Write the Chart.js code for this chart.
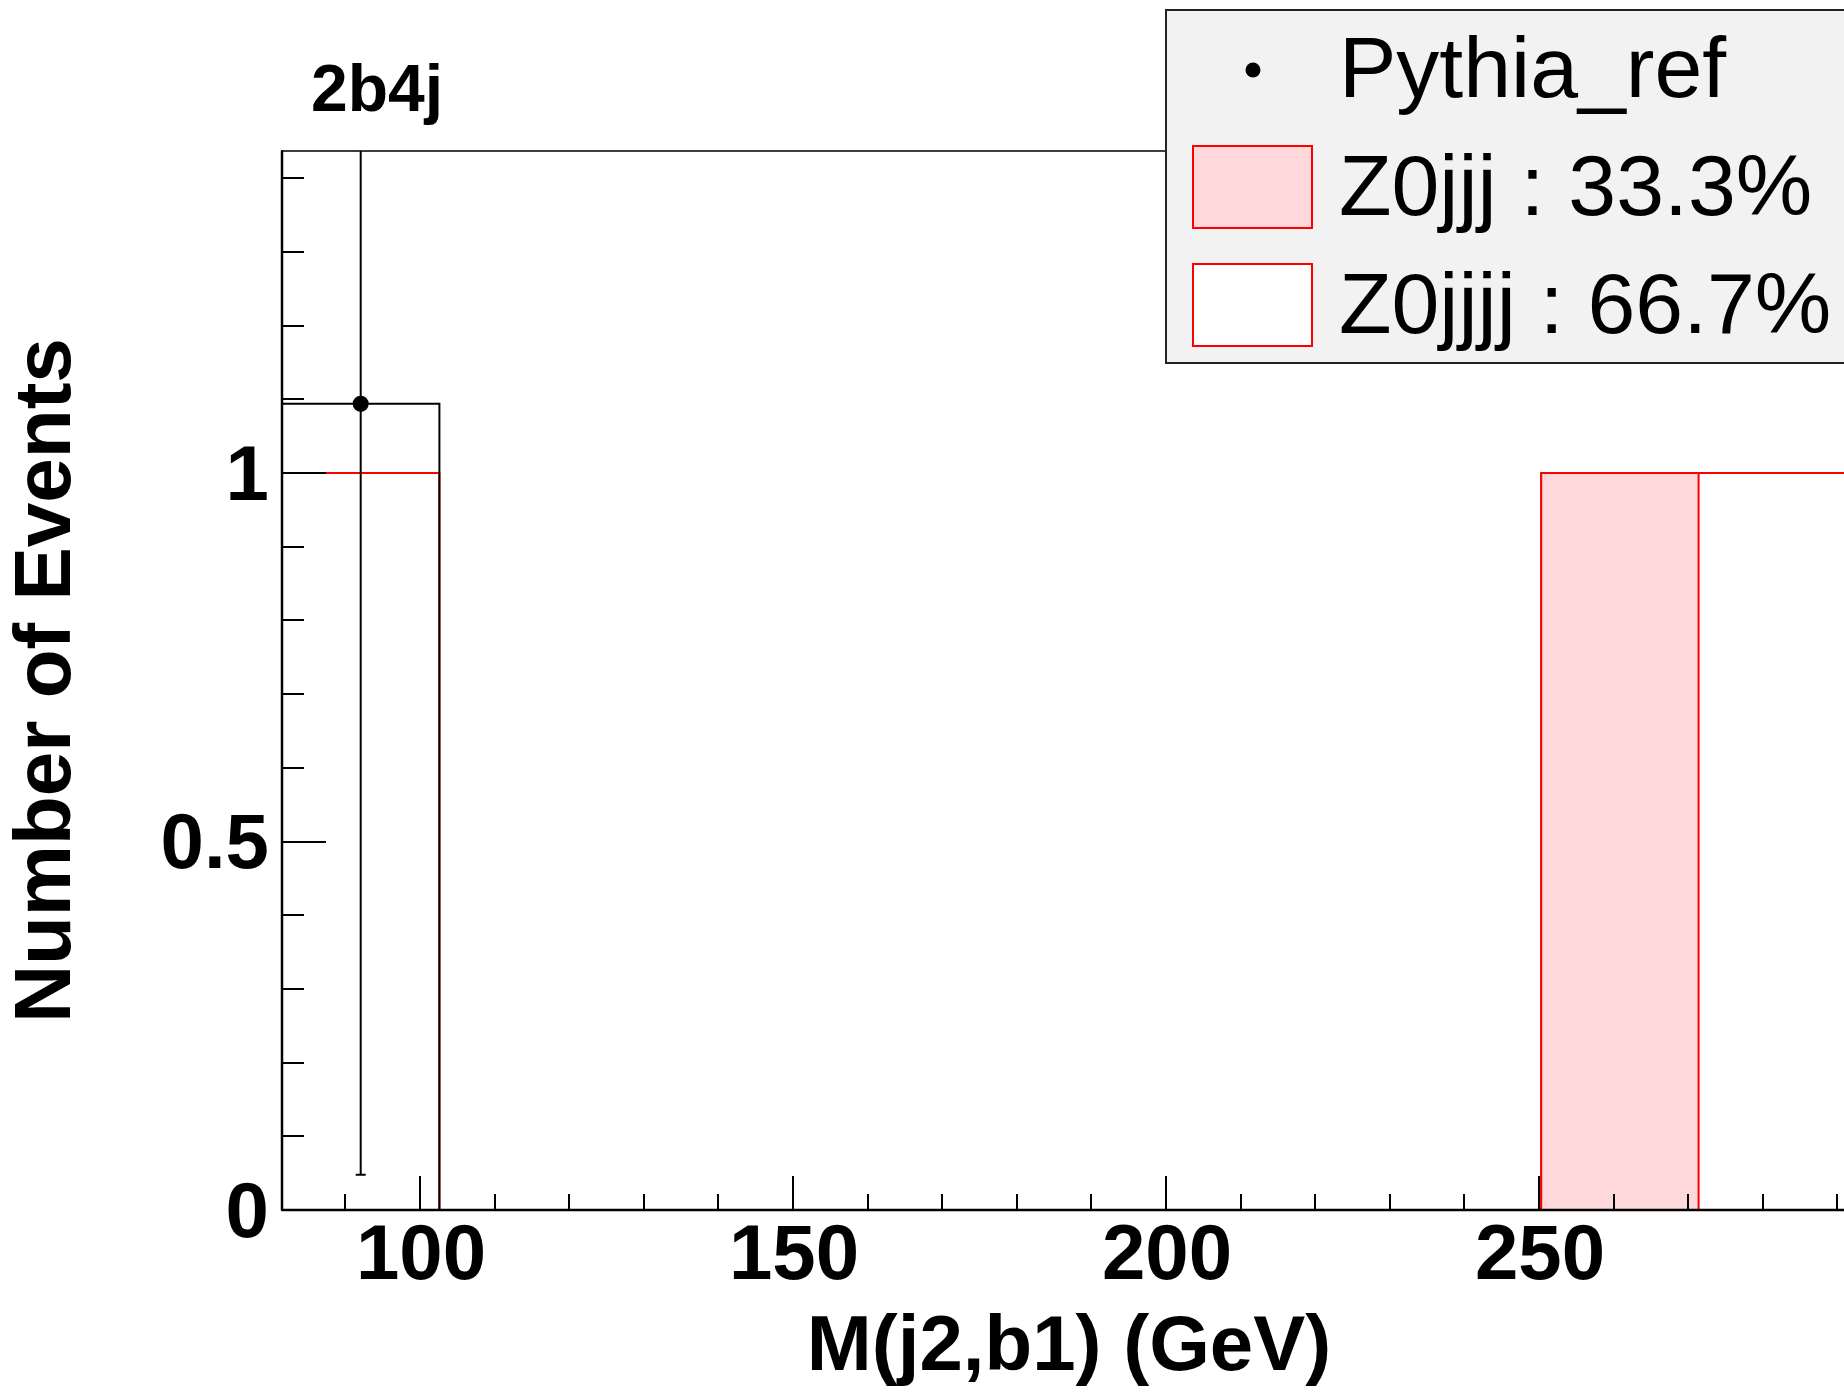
<!DOCTYPE html>
<html>
<head>
<meta charset="utf-8">
<script src="https://cdn.jsdelivr.net/npm/chart.js@4.4.1/dist/chart.umd.min.js"></script>
<style>
html, body { margin: 0; padding: 0; background: #ffffff; overflow: hidden; }
#wrap { width: 1844px; height: 1395px; overflow: hidden; position: relative; background: #ffffff; }
canvas { display: block; }
</style>
</head>
<body>
<div id="wrap"><canvas id="c" width="1900" height="1395"></canvas></div>
<script>
// ---------------- data ----------------
const binEdges   = [81.5, 102.6, 123.7, 144.8, 165.9, 187.0, 208.1, 229.2, 250.3, 271.4, 292.5];
const z0jjj      = [0, 0, 0, 0, 0, 0, 0, 0, 1, 0];
const z0jjjj     = [1, 0, 0, 0, 0, 0, 0, 0, 0, 1];
const pythiaRef  = [1.094, 0, 0, 0, 0, 0, 0, 0, 0, 0];
const pythiaErr  = [1.046, 0, 0, 0, 0, 0, 0, 0, 0, 0];
const seriesLabels = ['Pythia_ref', 'Z0jjj : 33.3%', 'Z0jjjj : 66.7%'];
const xTickValues  = [90, 100, 110, 120, 130, 140, 150, 160, 170, 180, 190, 200, 210, 220, 230, 240, 250, 260, 270, 280, 290];
const xLabelValues = [100, 150, 200, 250];
const yTickValues  = [0, 0.1, 0.2, 0.3, 0.4, 0.5, 0.6, 0.7, 0.8, 0.9, 1.0, 1.1, 1.2, 1.3, 1.4];
const yLabelValues = [0, 0.5, 1];
const xRange = [81.5, 292.5];
const yRange = [0, 1.437];
const chartTitle = '2b4j';
const xTitle = 'M(j2,b1) (GeV)';
const yTitle = 'Number of Events';

// ---------------- helpers ----------------
function stepPoints(vals) {
  const pts = [{ x: binEdges[0], y: 0 }];
  vals.forEach((v, i) => {
    pts.push({ x: binEdges[i], y: v });
    pts.push({ x: binEdges[i + 1], y: v });
  });
  pts.push({ x: binEdges[binEdges.length - 1], y: 0 });
  return pts;
}
const stackTotal = z0jjj.map((v, i) => v + z0jjjj[i]);
const binCenters = binEdges.slice(0, -1).map((e, i) => (e + binEdges[i + 1]) / 2);
const pythiaPoints = [];
const pythiaPointErr = [];
pythiaRef.forEach((v, i) => {
  if (v > 0) { pythiaPoints.push({ x: binCenters[i], y: v }); pythiaPointErr.push(pythiaErr[i]); }
});

const FONT = "'Liberation Sans', Arial, Helvetica, sans-serif";
const PINK = 'rgb(254,216,218)';
const RED = '#ff0000';

// ---------------- plugins ----------------
const rootStyle = {
  id: 'rootStyle',
  afterDatasetsDraw(chart) {
    const ctx = chart.ctx;
    const xs = chart.scales.x, ys = chart.scales.y, ca = chart.chartArea;
    // error bars of the reference points
    ctx.save();
    ctx.beginPath();
    ctx.rect(ca.left, ca.top, ca.right - ca.left, ca.bottom - ca.top);
    ctx.clip();
    ctx.strokeStyle = '#000';
    ctx.lineWidth = 2;
    pythiaPoints.forEach((p, i) => {
      const px = xs.getPixelForValue(p.x);
      const yHi = ys.getPixelForValue(p.y + pythiaPointErr[i]);
      const yLo = ys.getPixelForValue(Math.max(0, p.y - pythiaPointErr[i]));
      ctx.beginPath();
      ctx.moveTo(px, yLo); ctx.lineTo(px, yHi);
      ctx.moveTo(px - 5, yLo); ctx.lineTo(px + 5, yLo);
      ctx.moveTo(px - 5, yHi); ctx.lineTo(px + 5, yHi);
      ctx.stroke();
    });
    ctx.restore();

    // inward tick marks + frame + axes redrawn on top (as ROOT does)
    ctx.save();
    ctx.strokeStyle = '#000';
    ctx.lineWidth = 2;
    ctx.beginPath();
    xTickValues.forEach(v => {
      const px = Math.round(xs.getPixelForValue(v));
      const len = xLabelValues.includes(v) ? 34 : 16;
      ctx.moveTo(px, ca.bottom); ctx.lineTo(px, ca.bottom - len);
    });
    yTickValues.forEach(v => {
      const py = Math.round(ys.getPixelForValue(v));
      const len = yLabelValues.includes(v) ? 44 : 22;
      ctx.moveTo(ca.left, py); ctx.lineTo(ca.left + len, py);
    });
    ctx.stroke();
    const x0 = xs.getPixelForValue(xRange[0]), x1 = xs.getPixelForValue(xRange[1]);
    const y0 = ys.getPixelForValue(yRange[0]), y1 = ys.getPixelForValue(yRange[1]);
    ctx.lineWidth = 2.5;
    ctx.beginPath();
    ctx.moveTo(x0, y0); ctx.lineTo(x1, y0);
    ctx.moveTo(x0, y0); ctx.lineTo(x0, y1);
    ctx.stroke();
    ctx.lineWidth = 1.5;
    ctx.beginPath();
    ctx.moveTo(x0, y1); ctx.lineTo(x1, y1); ctx.lineTo(x1, y0);
    ctx.stroke();
    ctx.restore();
  },
  afterDraw(chart) {
    const ctx = chart.ctx;
    // title
    ctx.save();
    ctx.fillStyle = '#000';
    ctx.font = 'bold 66px ' + FONT;
    ctx.textAlign = 'left';
    ctx.textBaseline = 'alphabetic';
    ctx.fillText(chartTitle, 311, 111);
    ctx.restore();

    // legend
    ctx.save();
    ctx.fillStyle = '#f2f2f2';
    ctx.fillRect(1166, 10, chart.width - 1166 + 10, 353);
    ctx.strokeStyle = '#222';
    ctx.lineWidth = 2;
    ctx.strokeRect(1166, 10, chart.width - 1166 + 10, 353);
    const items = chart.data.datasets.filter(d => d.legendRow !== undefined)
      .sort((a, b) => a.legendRow - b.legendRow);
    ctx.font = '86px ' + FONT;
    ctx.textAlign = 'left';
    ctx.textBaseline = 'alphabetic';
    items.forEach((d, k) => {
      const rowTop = 10 + k * 118;
      if (d.legendKind === 'marker') {
        ctx.fillStyle = '#000';
        ctx.beginPath();
        ctx.arc(1253, rowTop + 60, 7.5, 0, Math.PI * 2);
        ctx.fill();
      } else {
        ctx.fillStyle = d.backgroundColor;
        ctx.fillRect(1193, rowTop + 18, 119, 82);
        ctx.strokeStyle = d.borderColor;
        ctx.lineWidth = 2;
        ctx.strokeRect(1193, rowTop + 18, 119, 82);
      }
      ctx.fillStyle = '#000';
      ctx.fillText(d.label, 1339, rowTop + 87);
    });
    ctx.restore();
  }
};

// ---------------- chart ----------------
new Chart(document.getElementById('c'), {
  type: 'line',
  data: {
    datasets: [
      {
        label: seriesLabels[0], legendRow: 0, legendKind: 'marker',
        data: pythiaPoints, showLine: false,
        pointRadius: 8, pointBackgroundColor: '#000', pointBorderColor: '#000', pointBorderWidth: 0,
        order: 1
      },
      {
        data: stepPoints(pythiaRef), borderColor: '#000', borderWidth: 2,
        pointRadius: 0, fill: false, tension: 0, order: 2
      },
      {
        label: seriesLabels[1], legendRow: 1, legendKind: 'box',
        data: stepPoints(z0jjj), borderColor: RED, backgroundColor: PINK, borderWidth: 2,
        pointRadius: 0, fill: 'origin', tension: 0, order: 3
      },
      {
        label: seriesLabels[2], legendRow: 2, legendKind: 'box',
        data: stepPoints(stackTotal), borderColor: RED, backgroundColor: '#ffffff', borderWidth: 2,
        pointRadius: 0, fill: 'origin', tension: 0, order: 4
      }
    ]
  },
  options: {
    responsive: false,
    animation: false,
    events: [],
    layout: { padding: { top: 151, right: 44, left: 0, bottom: 0 } },
    plugins: { legend: { display: false }, tooltip: { enabled: false }, title: { display: false } },
    scales: {
      x: {
        type: 'linear', min: xRange[0], max: xRange[1],
        afterBuildTicks: s => { s.ticks = xTickValues.map(v => ({ value: v })); },
        afterFit: s => { s.height = 185; },
        grid: { display: false, drawTicks: false },
        border: { display: true, color: '#000', width: 2 },
        ticks: {
          autoSkip: false, maxRotation: 0, minRotation: 0, padding: 1, labelOffset: 1,
          color: '#000', font: { family: FONT, size: 78, weight: 'bold', lineHeight: 1.2 },
          callback: v => xLabelValues.includes(v) ? String(v) : ''
        },
        title: {
          display: true, text: xTitle, color: '#000', padding: 0,
          font: { family: FONT, size: 78, weight: 'bold', lineHeight: 1.2 }
        }
      },
      y: {
        type: 'linear', min: yRange[0], max: yRange[1],
        afterBuildTicks: s => { s.ticks = yTickValues.map(v => ({ value: v })); },
        afterFit: s => { s.width = 282; },
        grid: { display: false, drawTicks: false },
        border: { display: true, color: '#000', width: 2 },
        ticks: {
          autoSkip: false, padding: 13, labelOffset: 5,
          color: '#000', font: { family: FONT, size: 78, weight: 'bold', lineHeight: 1.2 },
          callback: v => yLabelValues.includes(v) ? String(v) : ''
        },
        title: {
          display: true, text: yTitle, color: '#000', padding: 0,
          font: { family: FONT, size: 80, weight: 'bold', lineHeight: 1.2 }
        }
      }
    }
  },
  plugins: [rootStyle]
});
</script>
</body>
</html>
